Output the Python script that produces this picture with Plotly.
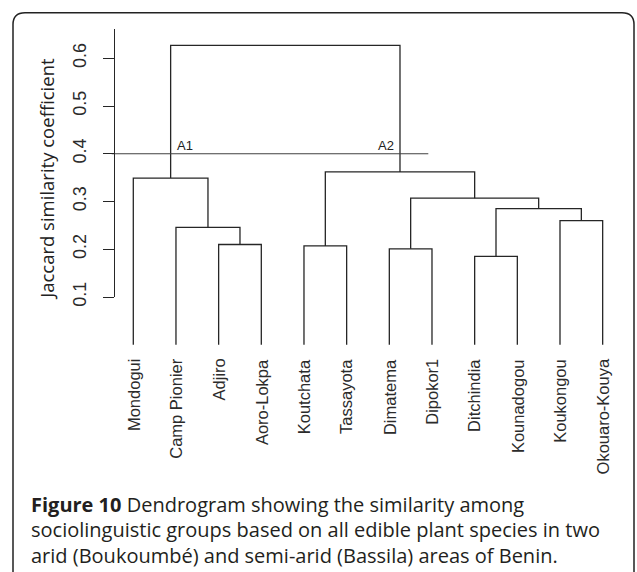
import plotly.graph_objects as go

# ---------------- data ----------------
leaf_labels = ["Mondogui", "Camp Pionier", "Adjiro", "Aoro-Lokpa", "Koutchata",
               "Tassayota", "Dimatema", "Dipokor1", "Ditchindia", "Kounadogou",
               "Koukongou", "Okouaro-Kouya"]
# hclust-style merge table: negative = leaf (1-based), positive = earlier merge (1-based)
merge_left = [-3, -2, -1, -5, -7, -9, -11, 6, 5, 4, 3]
merge_right = [-4, 1, 2, -6, -8, -10, -12, 7, 8, 9, 10]
merge_height = [0.210, 0.246, 0.349, 0.207, 0.201, 0.185, 0.260, 0.285, 0.307, 0.362, 0.627]
cut_height = 0.4
cluster_names = ["A1", "A2"]
cluster_nodes = [3, 10]          # merge index carrying each cluster label
y_ticks = [0.1, 0.2, 0.3, 0.4, 0.5, 0.6]
y_title = "Jaccard similarity coefficient"
caption_lines = [
    "<b>Figure 10</b> Dendrogram showing the similarity among",
    "sociolinguistic groups based on all edible plant species in two",
    "arid (Boukoumbé) and semi-arid (Bassila) areas of Benin.",
]

# ---------------- geometry (pixels) ----------------
W, H = 637, 572
X0, DX = 133.3, 42.67          # pixel of first leaf, leaf spacing
Y_REF, V_REF, K = 59.3, 0.6, 486.0   # pixel of value 0.6, pixels per unit
AX_X, AX_TOP, AX_BOT = 114, 30, 302.3

def px_to_val(py):
    return V_REF + (Y_REF - py) / K

def px_to_leaf(px):
    return 1 + (px - X0) / DX

def fx(px):
    return px / W

def fy(py):
    return 1 - py / H

# ---------------- dendrogram segments ----------------
node_x, node_y = [], []
def child_pos(c):
    if c < 0:
        return float(-c), 0.0
    return node_x[c - 1], node_y[c - 1]

seg_x, seg_y = [], []
for l, r, h in zip(merge_left, merge_right, merge_height):
    lx, ly = child_pos(l)
    rx, ry = child_pos(r)
    seg_x += [lx, lx, rx, rx, None]
    seg_y += [ly, h, h, ry, None]
    node_x.append((lx + rx) / 2)
    node_y.append(h)

line_col = "#262626"
fig = go.Figure()
fig.add_trace(go.Scatter(x=seg_x, y=seg_y, mode="lines",
                         line=dict(color=line_col, width=1.3),
                         hoverinfo="skip", showlegend=False))
# cut line
fig.add_trace(go.Scatter(x=[px_to_leaf(111.7), px_to_leaf(428.3)], y=[cut_height, cut_height],
                         mode="lines", line=dict(color="#404040", width=1.1),
                         hoverinfo="skip", showlegend=False))
# dummy trace for the visible y axis
fig.add_trace(go.Scatter(x=[1], y=[y_ticks[0]], xaxis="x", yaxis="y2", mode="markers",
                         marker=dict(opacity=0), hoverinfo="skip", showlegend=False))

annotations = []
for i, lab in enumerate(leaf_labels):
    annotations.append(dict(x=i + 1, y=0, xref="x", yref="y", text=lab, showarrow=False,
                            textangle=-90, xanchor="center", yanchor="top", yshift=-12,
                            font=dict(family="Liberation Sans, Arial", size=16.5, color="#2b2b2b")))
for name, node, shift, anc in zip(cluster_names, cluster_nodes, [4, -4], ["left", "right"]):
    annotations.append(dict(x=node_x[node - 1], y=cut_height, xref="x", yref="y", text=name,
                            showarrow=False, xanchor=anc, yanchor="bottom", xshift=shift, yshift=-1,
                            font=dict(family="Liberation Sans, Arial", size=13, color="#222222")))
annotations.append(dict(x=fx(47), y=fy(182), xref="paper", yref="paper", text=y_title,
                        showarrow=False, textangle=-90, xanchor="center", yanchor="middle",
                        font=dict(family="Open Sans", size=18.5, color="#222222")))
for j, line in enumerate(caption_lines):
    annotations.append(dict(x=fx(29), y=fy(513 + 26 * j), xref="paper", yref="paper", text=line,
                            showarrow=False, xanchor="left", yanchor="middle", align="left",
                            font=dict(family="Open Sans", size=20, color="#231f20")))

# rounded border
L, T, R, B, rad = 13, 13, 634, 590, 12
path = (f"M {fx(L)},{fy(B)} L {fx(L)},{fy(T + rad)} Q {fx(L)},{fy(T)} {fx(L + rad)},{fy(T)} "
        f"L {fx(R - rad)},{fy(T)} Q {fx(R)},{fy(T)} {fx(R)},{fy(T + rad)} L {fx(R)},{fy(B)}")
shapes = [dict(type="path", path=path, xref="paper", yref="paper",
               line=dict(color="#222222", width=1.5))]

fig.update_layout(
    width=W, height=H, margin=dict(l=0, r=0, t=0, b=0),
    paper_bgcolor="white", plot_bgcolor="rgba(0,0,0,0)",
    xaxis=dict(range=[px_to_leaf(0), px_to_leaf(W)], domain=[0, 1], visible=False, fixedrange=True),
    yaxis=dict(range=[px_to_val(H), px_to_val(0)], domain=[0, 1], visible=False, fixedrange=True),
    yaxis2=dict(range=[y_ticks[0], px_to_val(AX_TOP)], domain=[fy(AX_BOT), fy(AX_TOP)],
                anchor="free", position=fx(AX_X), side="left",
                showline=True, linecolor=line_col, linewidth=1.3,
                ticks="outside", ticklen=11, tickwidth=1.3, tickcolor=line_col,
                tickvals=y_ticks, ticktext=[f"{v:.1f}" for v in y_ticks], tickangle=-90,
                ticklabelstandoff=10, showgrid=False, zeroline=False, fixedrange=True,
                tickfont=dict(family="Liberation Sans, Arial", size=18, color="#2b2b2b")),
    annotations=annotations, shapes=shapes, showlegend=False,
)
fig.write_html("out.html", config={"displayModeBar": False},
               post_script="document.body.style.margin='0';")
